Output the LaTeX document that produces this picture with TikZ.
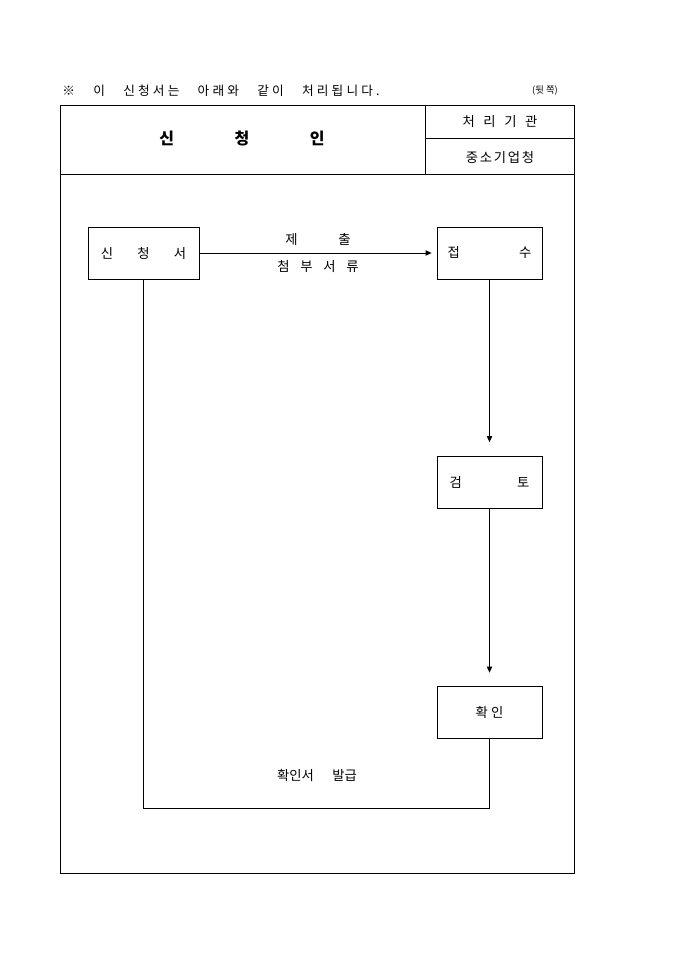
\documentclass[tikz,border=0pt]{standalone}
\usepackage{fontspec}
\setmainfont{Noto Sans CJK KR}
\usetikzlibrary{arrows.meta}

\begin{document}
\begin{tikzpicture}[x=0.75pt,y=-0.75pt,line width=0.6pt,
  box/.style={draw,minimum height=39pt,inner sep=0pt,font=\fontsize{10}{12}\selectfont},
  flow/.style={-{Triangle[width=4pt,length=4.5pt]}},
  lbl/.style={font=\fontsize{10}{12}\selectfont}]
\useasboundingbox (0,0) rectangle (680,962);

\node[anchor=west,inner sep=0pt,font=\fontsize{9.5}{11}\selectfont] (title) at (62,91)
  {\addfontfeature{LetterSpace=25}\makebox[238pt][s]{※ 이 신청서는 아래와 같이 처리됩니다.}};
\node[font=\fontsize{7}{9}\selectfont] (side) at (545,91) {(뒷 쪽)};

\draw (60,105) rectangle (574,873);
\draw (60,174) -- (574,174);
\draw (425,105) -- (425,174);
\draw (425,138) -- (574,138);

\node[font=\fontsize{12}{14}\selectfont\bfseries] (applicant) at (242,139)
  {\makebox[124pt][s]{신 청 인}};
\node[lbl] (agency) at (500,122) {\makebox[56pt][s]{처 리 기 관}};
\node[lbl] (office) at (500,157) {\addfontfeature{LetterSpace=13}중소기업청};

\node[box,minimum width=83.25pt] (form) at (143.5,253) {\makebox[64pt][s]{신 청 서}};
\node[box,minimum width=78.75pt] (receive) at (489.5,253) {\makebox[63pt][s]{접 수}};
\node[box,minimum width=78.75pt] (review) at (489.5,482.5) {\makebox[60pt][s]{검 토}};
\node[box,minimum width=78.75pt] (confirm) at (489.5,712) {확 인};

\draw[flow,shorten >=3.75pt] (form) -- node[lbl,above=2pt] (submit) {\makebox[49pt][s]{제 출}}
  node[lbl,below=2pt] (attach) {\makebox[61pt][s]{첨 부 서 류}} (receive);
\draw[flow,shorten >=10.5pt] (receive) -- (review);
\draw[flow,shorten >=9.75pt] (review) -- (confirm);
\draw (confirm.south) -- ++(0,70) -| (form.south);
\node[lbl] (issue) at (317,775) {\makebox[60pt][s]{확인서 발급}};
\end{tikzpicture}
\end{document}
